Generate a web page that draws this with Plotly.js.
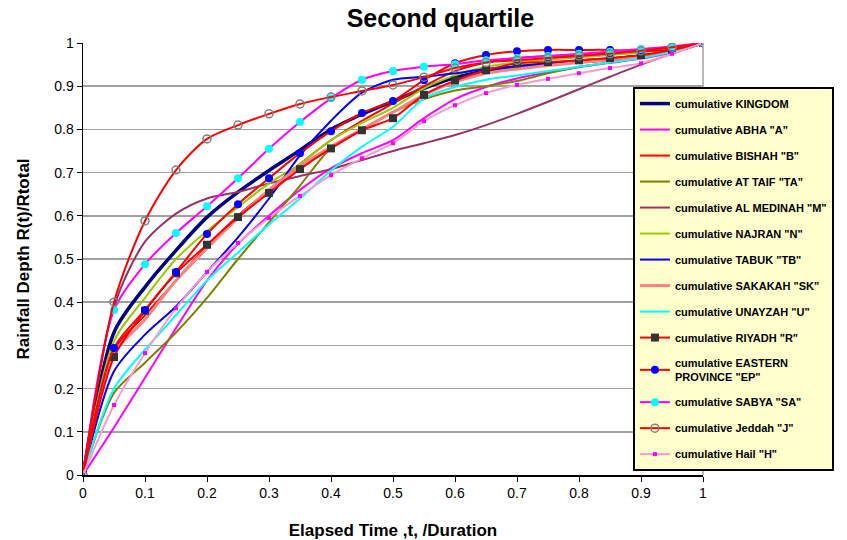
<!DOCTYPE html>
<html>
<head>
<meta charset="utf-8">
<script src="https://cdn.plot.ly/plotly-3.0.1.min.js"></script>
<style>
  html, body { margin: 0; padding: 0; background: #ffffff; }
  #chart { width: 847px; height: 540px; }
</style>
</head>
<body>
<div id="chart"></div>
<script>
// Elapsed time as a fraction of storm duration
const elapsed = [0, 0.05, 0.1, 0.15, 0.2, 0.25, 0.3, 0.35, 0.4, 0.45, 0.5,
                 0.55, 0.6, 0.65, 0.7, 0.75, 0.8, 0.85, 0.9, 0.95, 1];

// Cumulative rainfall depth ratio R(t)/Rtotal per station
const kingdom = [0, 0.33, 0.435, 0.52, 0.597, 0.655, 0.705, 0.752, 0.80, 0.835, 0.865, 0.895, 0.92, 0.935, 0.945, 0.952, 0.958, 0.963, 0.97, 0.98, 1];
const abha    = [0, 0.11, 0.225, 0.34, 0.45, 0.535, 0.60, 0.66, 0.71, 0.745, 0.775, 0.826, 0.87, 0.898, 0.918, 0.932, 0.944, 0.954, 0.964, 0.978, 1];
const bishah  = [0, 0.29, 0.37, 0.45, 0.53, 0.60, 0.66, 0.72, 0.775, 0.82, 0.86, 0.90, 0.935, 0.955, 0.965, 0.97, 0.972, 0.975, 0.98, 0.99, 1];
const taif    = [0, 0.19, 0.26, 0.33, 0.41, 0.50, 0.585, 0.67, 0.757, 0.80, 0.84, 0.87, 0.89, 0.90, 0.912, 0.93, 0.945, 0.955, 0.965, 0.98, 1];
const medinah = [0, 0.39, 0.54, 0.605, 0.64, 0.655, 0.675, 0.692, 0.708, 0.729, 0.75, 0.768, 0.787, 0.81, 0.836, 0.864, 0.893, 0.922, 0.95, 0.975, 1];
const najran  = [0, 0.31, 0.41, 0.50, 0.565, 0.62, 0.675, 0.72, 0.775, 0.815, 0.85, 0.895, 0.925, 0.945, 0.955, 0.962, 0.967, 0.972, 0.978, 0.986, 1];
const tabuk   = [0, 0.24, 0.325, 0.39, 0.47, 0.55, 0.64, 0.74, 0.82, 0.885, 0.915, 0.922, 0.93, 0.94, 0.945, 0.95, 0.955, 0.96, 0.967, 0.98, 1];
const sakakah = [0, 0.28, 0.36, 0.45, 0.525, 0.595, 0.66, 0.715, 0.76, 0.80, 0.84, 0.88, 0.91, 0.93, 0.94, 0.948, 0.955, 0.96, 0.968, 0.98, 1];
const unayzah = [0, 0.20, 0.29, 0.37, 0.45, 0.515, 0.58, 0.64, 0.705, 0.76, 0.806, 0.872, 0.898, 0.915, 0.925, 0.935, 0.945, 0.955, 0.965, 0.98, 1];
const riyadh  = [0, 0.273, 0.38, 0.467, 0.533, 0.597, 0.653, 0.708, 0.756, 0.798, 0.826, 0.88, 0.913, 0.937, 0.953, 0.956, 0.96, 0.965, 0.972, 0.984, 1];
const eastern = [0, 0.294, 0.382, 0.47, 0.558, 0.627, 0.687, 0.745, 0.796, 0.838, 0.866, 0.914, 0.953, 0.972, 0.981, 0.984, 0.984, 0.984, 0.981, 0.985, 1];
const sabya   = [0, 0.382, 0.488, 0.56, 0.622, 0.687, 0.755, 0.817, 0.872, 0.915, 0.935, 0.945, 0.951, 0.96, 0.965, 0.97, 0.975, 0.98, 0.986, 0.992, 1];
const jeddah  = [0, 0.40, 0.588, 0.706, 0.778, 0.81, 0.836, 0.859, 0.875, 0.889, 0.903, 0.921, 0.942, 0.955, 0.96, 0.965, 0.97, 0.975, 0.982, 0.99, 1];
const hail    = [0, 0.162, 0.282, 0.386, 0.47, 0.537, 0.595, 0.646, 0.694, 0.733, 0.768, 0.819, 0.856, 0.884, 0.903, 0.917, 0.93, 0.942, 0.953, 0.975, 1];

const seriesNames = [
  'cumulative KINGDOM', 'cumulative ABHA "A"', 'cumulative BISHAH "B"',
  'cumulative AT TAIF "TA"', 'cumulative AL MEDINAH "M"', 'cumulative NAJRAN "N"',
  'cumulative TABUK "TB"', 'cumulative SAKAKAH "SK"', 'cumulative UNAYZAH "U"',
  'cumulative RIYADH "R"', 'cumulative EASTERN<br>PROVINCE "EP"', 'cumulative SABYA "SA"',
  'cumulative Jeddah "J"', 'cumulative Hail "H"'
];
const seriesValues = [kingdom, abha, bishah, taif, medinah, najran, tabuk,
                      sakakah, unayzah, riyadh, eastern, sabya, jeddah, hail];

// Line / marker style for each station
const styles = [
  { line: { color: '#000080', width: 3.5 } },
  { line: { color: '#FF00FF', width: 2 } },
  { line: { color: '#FF0000', width: 2 } },
  { line: { color: '#808000', width: 2 } },
  { line: { color: '#993366', width: 2 } },
  { line: { color: '#99CC00', width: 2 } },
  { line: { color: '#0000FF', width: 2 } },
  { line: { color: '#FF8080', width: 3 } },
  { line: { color: '#00FFFF', width: 2 } },
  { line: { color: '#FF0000', width: 2 }, marker: { symbol: 'square', size: 8, color: '#333333' } },
  { line: { color: '#FF0000', width: 2 }, marker: { symbol: 'circle', size: 8, color: '#0000FF' } },
  { line: { color: '#FF00FF', width: 2 }, marker: { symbol: 'circle', size: 8, color: '#00FFFF' } },
  { line: { color: '#FF0000', width: 2 }, marker: { symbol: 'circle-open', size: 8, color: '#808080', line: { width: 1.5 } } },
  { line: { color: '#FF99CC', width: 2 }, marker: { symbol: 'square', size: 4, color: '#FF00FF' } }
];

const traces = seriesNames.map((name, i) => {
  const s = styles[i];
  const t = {
    type: 'scatter',
    x: elapsed,
    y: seriesValues[i],
    name: name,
    legendgroup: 'g' + i,
    mode: s.marker ? 'lines+markers' : 'lines',
    line: Object.assign({ shape: 'spline', smoothing: 0.8 }, s.line)
  };
  if (s.marker) t.marker = s.marker;
  return t;
});

const layout = {
  width: 847,
  height: 540,
  margin: { l: 83, r: 144, t: 43, b: 65 },
  paper_bgcolor: '#ffffff',
  plot_bgcolor: '#ffffff',
  font: { family: 'Liberation Sans, Arial, sans-serif', color: '#000000' },
  title: {
    text: '<b>Second quartile</b>',
    font: { size: 25, family: 'Liberation Sans, Arial, sans-serif' },
    x: 0.52, xanchor: 'center',
    y: 0.966, yanchor: 'middle'
  },
  xaxis: {
    range: [0, 1],
    tickvals: [0, 0.1, 0.2, 0.3, 0.4, 0.5, 0.6, 0.7, 0.8, 0.9, 1],
    ticktext: ['0', '0.1', '0.2', '0.3', '0.4', '0.5', '0.6', '0.7', '0.8', '0.9', '1'],
    showgrid: false,
    zeroline: false,
    showline: true, linecolor: '#000000', linewidth: 1.5,
    ticks: 'outside', ticklen: 5, tickcolor: '#000000',
    tickfont: { size: 14 },
    title: { text: '<b>Elapsed Time ,t, /Duration</b>', font: { size: 17 }, standoff: 24 }
  },
  yaxis: {
    range: [0, 1],
    tickvals: [0, 0.1, 0.2, 0.3, 0.4, 0.5, 0.6, 0.7, 0.8, 0.9, 1],
    ticktext: ['0', '0.1', '0.2', '0.3', '0.4', '0.5', '0.6', '0.7', '0.8', '0.9', '1'],
    showgrid: true, gridcolor: '#A0A0A0', gridwidth: 1.5,
    zeroline: false,
    showline: true, linecolor: '#000000', linewidth: 1.5,
    ticks: 'outside', ticklen: 5, tickcolor: '#000000',
    tickfont: { size: 14 },
    title: { text: '<b>Rainfall Depth R(t)/Rtotal</b>', font: { size: 17 }, standoff: 20 }
  },
  shapes: [
    { type: 'line', xref: 'paper', yref: 'paper', x0: 1, x1: 1, y0: 0, y1: 1,
      line: { color: '#A0A0A0', width: 1.5 } }
  ],
  showlegend: true,
  legend: {
    x: 0.887, xanchor: 'left',
    y: 0.898, yanchor: 'top',
    bgcolor: '#FFFFCC',
    bordercolor: '#000000',
    borderwidth: 2,
    traceorder: 'grouped',
    tracegroupgap: 7,
    itemwidth: 30,
    font: { size: 11, family: 'Liberation Sans, Arial, sans-serif', weight: 'bold', color: '#000000' }
  }
};

Plotly.newPlot('chart', traces, layout, { displayModeBar: false, staticPlot: true });
</script>
</body>
</html>
